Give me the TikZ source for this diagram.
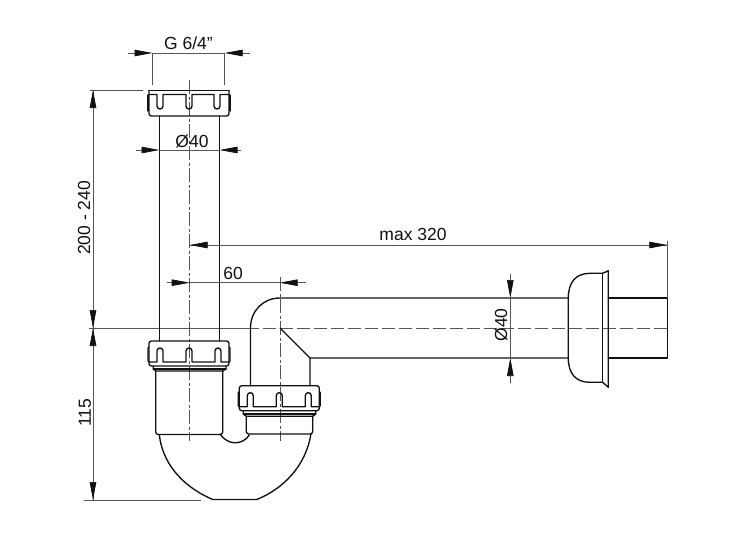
\documentclass[tikz,border=0pt]{standalone}
\usepackage{fontspec}
\setmainfont{Liberation Sans}
\usetikzlibrary{arrows.meta}
\definecolor{ink}{HTML}{111111}
\definecolor{thin}{HTML}{555555}
\tikzset{
  body/.style={draw=ink,line width=1.35pt,line join=round,line cap=round},
  dimline/.style={draw=thin,line width=0.7pt},
  tip/.style={draw=thin,line width=0.7pt,-{Triangle[length=18pt,width=6.5pt,color=ink]}},
  centre/.style={draw=thin,line width=0.6pt,dash pattern=on 14pt off 2.5pt on 3pt off 2.5pt},
  hcentre/.style={draw=thin,line width=0.9pt,dash pattern=on 13pt off 4pt},
  label/.style={font=\fontsize{17.5}{19}\selectfont,text=ink,inner sep=0pt}
}
\newcommand{\slotpath}[3]{(#1,#3)--(#1,10) .. controls (#1,6) and (#2,6) .. (#2,10)--(#2,#3)}
\newcommand{\nutshape}{%
  \draw[body,rounded corners=2.5pt] (1,25)--(1,0)--(81,0)--(81,25)--cycle;
  \draw[body] (1,6)--(0,7)--(0,20)--(1,21) (81,6)--(82,7)--(82,20)--(81,21);
  \draw[body] (1,21)--(9,21) \slotpath{9}{15}{21} (15,21)--(38,21) \slotpath{38}{44}{21} (44,21)--(67,21) \slotpath{67}{73}{21} (73,21)--(81,21);
}
\begin{document}
\begin{tikzpicture}[x=1pt,y=-1pt]
\useasboundingbox (0,0) rectangle (738,547);
\fill[white] (0,0) rectangle (738,547);
% centre lines
\draw[dimline] (89,328)--(246,328);
\draw[hcentre] (246,328)--(671,328);
\draw[centre] (189.7,80)--(189.7,441);
\draw[centre] (280,277)--(280,441);
% upper nut (inverted)
\begin{scope}[shift={(148,116)},yscale=-1]
\draw[body,rounded corners=2.5pt] (1,25.5)--(1,0)--(81,0)--(81,25.5);
\draw[body] (1,25.5)--(81,25.5);
\draw[body] (0,21)--(0,5) (82,21)--(82,5);
\draw[body] (1,21.5)--(9,21.5) \slotpath{9}{15}{21.5} (15,21.5)--(38,21.5) \slotpath{38}{44}{21.5} (44,21.5)--(66,21.5) \slotpath{66}{72}{21.5} (72,21.5)--(81,21.5);
\end{scope}
% vertical pipe
\draw[body] (159.5,116)--(159.5,341) (219.5,116)--(219.5,341);
% lower left nut
\begin{scope}[shift={(148,341)}]\nutshape\end{scope}
% collar and body left
\draw[body] (153.3,366)--(153.3,369)--(155.7,371)--(222.7,371)--(226,369)--(226,366);
\draw[body] (153.3,369)--(226,369);
\draw[body,rounded corners=2.5pt] (155.7,371)--(155.7,434.5)--(222.7,434.5)--(222.7,371);
% trap
\draw[body] (159.3,434.5) .. controls (163,468) and (188,489) .. (212.7,499.5)--(256.7,499.5) .. controls (283,489) and (306,466) .. (311,433.5);
\draw[body] (220,434) .. controls (224,440) and (230,442.8) .. (235,442.8) .. controls (241,442.8) and (246,440) .. (249.3,435);
% elbow
\draw[body] (250.5,385.7)--(250.5,328) .. controls (250.5,311) and (263,298) .. (280,298)--(568.3,298);
\draw[body] (280,328)--(310,358)--(310,385.7) (310,358)--(568.3,358);
% right nut
\begin{scope}[shift={(238.3,385.7)}]\nutshape\end{scope}
% right collar and body
\draw[body] (243.3,410.7)--(243.3,414)--(246.3,416.3)--(312.7,416.3)--(315.7,414)--(315.7,410.7);
\draw[body] (243.3,414)--(315.7,414);
\draw[body,rounded corners=2.5pt] (246.3,416.3)--(246.3,434)--(312.7,434)--(312.7,416.3);
% wall rosette
\draw[body] (568.3,298) .. controls (568.3,282) and (576,273.3) .. (590,273.3)--(602.7,273.3)--(608.3,270.7)--(608.3,387.3)--(602.7,382.3)--(590,382.3) .. controls (576,382.3) and (568.3,374) .. (568.3,358)--cycle;
\draw[body] (602.7,273.3)--(602.7,382.3);
\draw[body] (608.3,298)--(667.3,298)--(667.3,358)--(608.3,358);
% dimension: G 6/4
\draw[dimline] (152.5,53)--(224.6,53) (152.5,53)--(152.5,85) (224.6,53)--(224.6,85);
\draw[tip] (127.7,53)--(152.5,53);
\draw[tip] (250,53)--(224.6,53);
\node[label] (g) at (188.5,43) {G 6/4"};
% dimension: dia 40 upper
\draw[dimline] (159.5,150)--(219.5,150);
\draw[tip] (136,150)--(159.5,150);
\draw[tip] (241,150)--(219.5,150);
\node[label] (d1) at (192,141) {Ø40};
% dimension: height
\draw[dimline] (90,90)--(143,90) (84,500)--(201,500);
\draw[dimline] (93,90)--(93,500);
\draw[tip] (93,115)--(93,90);
\draw[tip] (93,308)--(93,328);
\draw[tip] (93,348)--(93,328);
\draw[tip] (93,480)--(93,500);
\node[label,rotate=90] (h1) at (84,218) {200 - 240};
\node[label,rotate=90] (h2) at (85,413) {115};
% dimension: max 320
\draw[dimline] (667.3,241)--(667.3,298);
\draw[dimline] (189.7,245)--(667.3,245);
\draw[tip] (215,245)--(189.7,245);
\draw[tip] (640,245)--(667.3,245);
\node[label] (m) at (413,234) {max 320};
% dimension: 60
\draw[dimline] (189.7,282.7)--(279.7,282.7);
\draw[tip] (166.7,282.7)--(189.7,282.7);
\draw[tip] (306,282.7)--(279.7,282.7);
\node[label] (s) at (233,273) {60};
% dimension: dia 40 horizontal pipe
\draw[dimline] (510.3,298)--(510.3,358);
\draw[tip] (510.3,274.3)--(510.3,298);
\draw[tip] (510.3,382.7)--(510.3,358);
\node[label,rotate=90] (d2) at (501,325) {Ø40};
\end{tikzpicture}
\end{document}
